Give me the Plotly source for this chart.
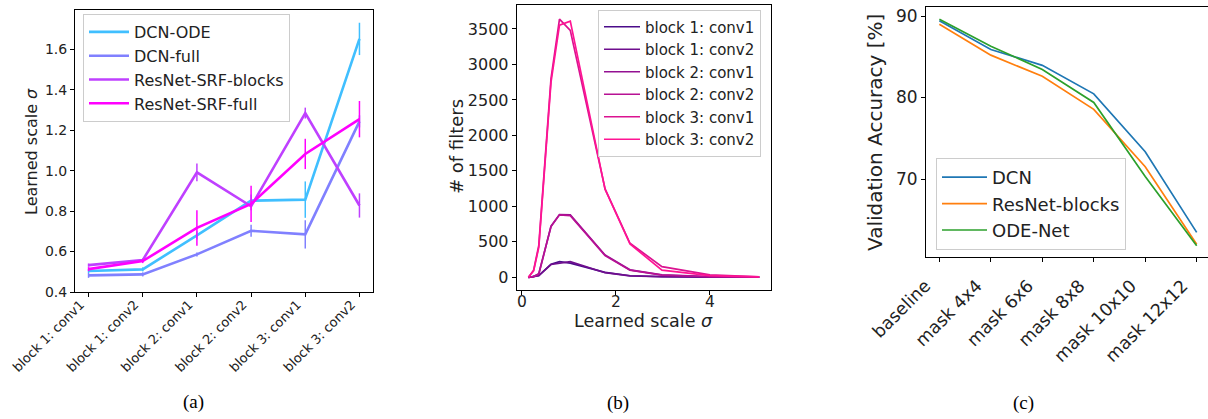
import plotly.graph_objects as go

W, H = 1208, 419

# ---------------- Panel (a) data ----------------
layers = ["block 1: conv1", "block 1: conv2", "block 2: conv1",
          "block 2: conv2", "block 3: conv1", "block 3: conv2"]
a_names = ["DCN-ODE", "DCN-full", "ResNet-SRF-blocks", "ResNet-SRF-full"]
a_colors = ["#40BFFF", "#8080FF", "#BF40FF", "#FF00FF"]
dcn_ode = [0.504, 0.512, 0.68, 0.852, 0.857, 1.652]
dcn_ode_err = [0.01, 0.01, 0.02, 0.03, 0.09, 0.08]
dcn_full = [0.482, 0.487, 0.586, 0.703, 0.685, 1.244]
dcn_full_err = [0.012, 0.01, 0.01, 0.03, 0.07, 0.03]
srf_blocks = [0.533, 0.558, 0.992, 0.824, 1.285, 0.828]
srf_blocks_err = [0.008, 0.008, 0.044, 0.02, 0.027, 0.06]
srf_full = [0.513, 0.553, 0.717, 0.836, 1.083, 1.255]
srf_full_err = [0.01, 0.01, 0.088, 0.09, 0.075, 0.09]
a_values = [dcn_ode, dcn_full, srf_blocks, srf_full]
a_errors = [dcn_ode_err, dcn_full_err, srf_blocks_err, srf_full_err]

# ---------------- Panel (b) data ----------------
sigma_bins = [0.14, 0.25, 0.36, 0.62, 0.8, 1.03, 1.77, 2.3, 2.98, 4.0, 5.05]
b_names = ["block 1: conv1", "block 1: conv2", "block 2: conv1",
           "block 2: conv2", "block 3: conv1", "block 3: conv2"]
b1c1 = [0, 8, 25, 185, 220, 200, 70, 22, 10, 3, 1]
b1c2 = [0, 8, 22, 180, 200, 220, 65, 20, 8, 2, 1]
b2c1 = [0, 10, 50, 720, 885, 880, 315, 105, 35, 10, 2]
b2c2 = [0, 10, 45, 715, 880, 870, 305, 100, 30, 8, 2]
b3c1 = [0, 100, 450, 2800, 3640, 3480, 1245, 480, 150, 35, 8]
b3c2 = [0, 90, 420, 2750, 3555, 3610, 1240, 470, 100, 25, 5]
b_values = [b1c1, b1c2, b2c1, b2c2, b3c1, b3c2]
b_colors = ["#4B0C8A", "#6F0E8E", "#931092", "#B71194", "#DB1391", "#FF1493"]

# ---------------- Panel (c) data ----------------
masks = ["baseline", "mask 4x4", "mask 6x6", "mask 8x8", "mask 10x10", "mask 12x12"]
c_names = ["DCN", "ResNet-blocks", "ODE-Net"]
c_colors = ["#1f77b4", "#ff7f0e", "#2ca02c"]
acc_dcn = [89.43, 85.9, 83.95, 80.45, 73.35, 63.45]
acc_resnet = [89.0, 85.2, 82.6, 78.55, 71.5, 62.0]
acc_ode = [89.6, 86.3, 83.45, 79.4, 70.3, 61.8]
c_values = [acc_dcn, acc_resnet, acc_ode]

FONT = "DejaVu Sans"


def px(x):
    return x / W


def py(y):
    return 1 - y / H


fig = go.Figure()

idx = list(range(len(layers)))
for name, col, vals, errs in zip(a_names, a_colors, a_values, a_errors):
    fig.add_trace(go.Scatter(
        x=idx, y=vals, mode="lines", name=name,
        line=dict(color=col, width=2.6),
        error_y=dict(type="data", array=errs, visible=True, color=col,
                     thickness=1.5, width=0),
        xaxis="x", yaxis="y", legend="legend"))

for name, col, vals in zip(b_names, b_colors, b_values):
    fig.add_trace(go.Scatter(
        x=sigma_bins, y=vals, mode="lines", name=name,
        line=dict(color=col, width=1.7),
        xaxis="x2", yaxis="y2", legend="legend2"))

cidx = list(range(len(masks)))
for name, col, vals in zip(c_names, c_colors, c_values):
    fig.add_trace(go.Scatter(
        x=cidx, y=vals, mode="lines", name=name,
        line=dict(color=col, width=1.7),
        xaxis="x3", yaxis="y3", legend="legend3"))

axis_common = dict(showline=True, mirror=True, linecolor="black", linewidth=1,
                   ticks="outside", ticklen=4, tickcolor="black",
                   showgrid=False, zeroline=False, automargin=False)

legend_common = dict(bgcolor="rgba(255,255,255,0.8)", bordercolor="#cccccc",
                     borderwidth=1, xanchor="left", yanchor="middle")

fig.update_layout(
    width=W, height=H,
    margin=dict(l=0, r=0, t=0, b=0, pad=0, autoexpand=False),
    paper_bgcolor="white", plot_bgcolor="white",
    font=dict(family=FONT, color="#222"),
    xaxis=dict(domain=[px(75), px(373)], range=[-0.25, 5.25],
               tickmode="array", tickvals=idx, ticktext=layers,
               tickangle=-45, tickfont=dict(size=13), ticklabelshift=-8,
               ticklabelstandoff=-5, anchor="y", **axis_common),
    yaxis=dict(domain=[py(292), py(10)], range=[0.4, 1.795],
               tickmode="array", tickvals=[0.4, 0.6, 0.8, 1.0, 1.2, 1.4, 1.6],
               ticktext=["0.4", "0.6", "0.8", "1.0", "1.2", "1.4", "1.6"],
               tickfont=dict(size=14), anchor="x", **axis_common),
    xaxis2=dict(domain=[px(516.7), px(771)], range=[-0.11, 5.3],
                tickmode="array", tickvals=[0, 2, 4], tickfont=dict(size=15.5),
                ticklabelstandoff=-7, anchor="y2", **axis_common),
    yaxis2=dict(domain=[py(290), py(5)], range=[-179, 3838],
                tickmode="array", tickvals=[0, 500, 1000, 1500, 2000, 2500, 3000, 3500],
                tickfont=dict(size=16), anchor="x2", **axis_common),
    xaxis3=dict(domain=[px(926), 1.0], range=[-0.26, 5.22],
                tickmode="array", tickvals=cidx, ticktext=masks,
                tickangle=-45, tickfont=dict(size=17.5), ticklabelshift=-14,
                ticklabelstandoff=7, anchor="y3", **axis_common),
    yaxis3=dict(domain=[py(256.7), py(7.3)], range=[60.47, 91.07],
                tickmode="array", tickvals=[70, 80, 90],
                tickfont=dict(size=17), anchor="x3", **axis_common),
    legend=dict(x=px(83), y=py(68), itemwidth=40,
                font=dict(size=16, family=FONT, color="#222"), **legend_common),
    legend2=dict(x=px(598), y=py(83), itemwidth=36,
                 font=dict(size=15, family=FONT, color="#222"), **legend_common),
    legend3=dict(x=px(936), y=py(204), itemwidth=45,
                 font=dict(size=18, family=FONT, color="#222"), **legend_common),
    showlegend=True,
)

annotations = [
    dict(text="Learned scale <i>σ</i>", x=px(31), y=py(152), textangle=-90,
         font=dict(size=16, family=FONT, color="#222")),
    dict(text="# of filters", x=px(456), y=py(147), textangle=-90,
         font=dict(size=18, family=FONT, color="#222")),
    dict(text="Learned scale <i>σ</i>", x=px(643), y=py(321),
         font=dict(size=17.5, family=FONT, color="#222")),
    dict(text="Validation Accuracy [%]", x=px(875), y=py(132), textangle=-90,
         font=dict(size=20, family=FONT, color="#222")),
    dict(text="(a)", x=px(193), y=py(402),
         font=dict(size=19, family="Liberation Serif", color="black")),
    dict(text="(b)", x=px(618), y=py(403),
         font=dict(size=19, family="Liberation Serif", color="black")),
    dict(text="(c)", x=px(1023), y=py(403),
         font=dict(size=19, family="Liberation Serif", color="black")),
]
for a in annotations:
    a.update(xref="paper", yref="paper", showarrow=False,
             xanchor="center", yanchor="middle")
fig.update_layout(annotations=annotations)

fig.write_html("out.html")
